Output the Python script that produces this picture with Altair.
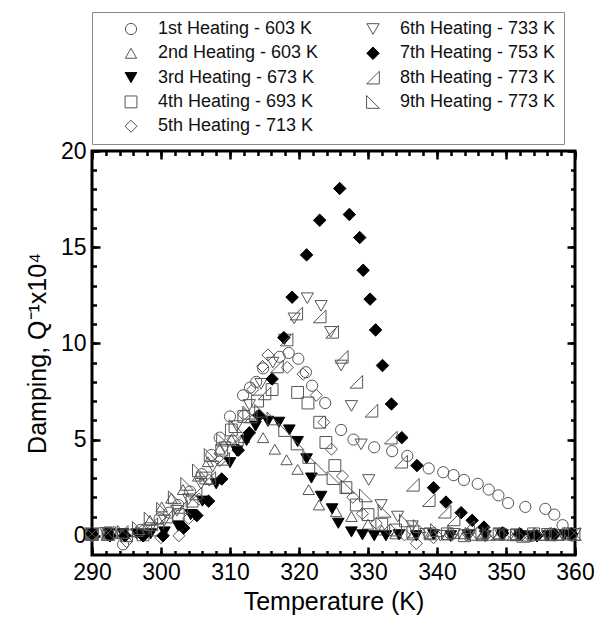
import altair as alt
import pandas as pd

SERIES = [
    "1st Heating - 603 K", "2nd Heating - 603 K", "3rd Heating - 673 K",
    "4th Heating - 693 K", "5th Heating - 713 K", "6th Heating - 733 K",
    "7th Heating - 753 K", "8th Heating - 773 K", "9th Heating - 773 K",
]

T1 = [290, 292.3, 294.5, 297, 299.8, 301.2, 302.5, 304.2, 305.9, 307.3, 308.5, 310, 311.9, 312.9, 313.8, 314.8,
      317.2, 318.5, 319.9, 321, 321.9, 323.8, 326.1, 327.9, 330.9, 333.5, 335.7, 338.8, 340.9, 342.4, 343.9,
      345.9, 347.5, 348.9, 350.3, 352.8, 355.7, 357, 358.2]
D1 = [0.1, 0.1, -0.45, 0.3, 0.9, 1.2, 1.6, 2.3, 3.2, 4.2, 5.1, 6.2, 7.3, 7.7, 8.0, 8.7,
      9.3, 9.5, 9.2, 8.5, 7.8, 6.9, 5.5, 5.0, 4.6, 4.4, 4.15, 3.5, 3.3, 3.15, 2.9,
      2.7, 2.4, 2.1, 1.7, 1.5, 1.4, 1.1, 0.55]

T2 = [290, 292.3, 294.5, 296.5, 298.4, 300.1, 301.5, 303.2, 305.4, 306.8, 308.5, 310.2, 312, 314.8, 316.5,
      318.2, 319.8, 321.4, 322.9, 325.4, 327.6, 330, 332, 334, 336.5, 339, 341.5, 344, 346.5, 349, 351.5,
      354, 356.5, 359]
D2 = [0.1, 0.1, 0.1, 0.2, 0.8, 1.5, 1.95, 2.4, 3.1, 3.85, 4.5, 5.0, 5.1, 5.1, 4.5,
      3.95, 3.45, 2.4, 1.6, 1.25, 1.0, 0.6, 0.3, 0.1, 0.05, 0.1, 0.05, 0.1, 0.0, 0.1, 0.05,
      0.1, 0.05, 0.1]

T3 = [290, 292.5, 294.5, 296.5, 298.5, 300.5, 302.5, 304.3, 306, 308, 310, 311, 312.4, 313.7, 315.5, 317.1,
      318.6, 319.8, 321.1, 321.8, 323.2, 324.8, 325.7, 327.6, 329.2, 330.9, 332.6, 334.5, 337, 339.5,
      342, 344.5, 347, 349.5, 352, 353.6, 356, 358.5]
D3 = [0.1, 0.1, 0.1, 0.1, 0.1, 0.2, 0.5, 1.1, 1.8, 2.7, 3.8, 4.4, 4.95, 5.7, 5.95, 5.9,
      5.5, 4.9, 4.0, 3.0, 2.05, 1.4, 0.65, 0.2, 0.05, 0.0, 0.0, 0.05, 0.0, 0.05,
      0.0, 0.05, 0.0, 0.05, 0.0, -0.05, 0.0, 0.05]

T4 = [290, 292.6, 295, 297.4, 299.5, 302.5, 304.5, 306.5, 308.8, 310.2, 312, 314, 316.1, 319.8, 321.3,
      323.0, 323.9, 325.2, 326.8, 328.3, 330, 332, 334, 336.5, 339, 341.5, 344, 346.5, 349, 351.5, 354,
      356.5, 359]
D4 = [0.1, 0.15, 0.0, 0.05, 0.3, 1.1, 1.8, 3.0, 4.45, 5.5, 6.2, 7.0, 7.6, 7.45, 6.9,
      5.9, 4.85, 3.65, 2.5, 1.6, 1.1, 0.6, 0.3, 0.2, 0.1, 0.1, 0.0, 0.1, 0.1, 0.05, 0.1,
      0.05, 0.1]

T5 = [290, 292.5, 295, 297.5, 300, 302.6, 304, 305.5, 307, 308.5, 310.4, 312, 313.3, 314.7, 315.5, 318.3,
      320.6, 322.5, 323.6, 324.7, 326.3, 327.8, 329.2, 331.2, 333.2, 335.3, 337, 339.5, 342, 344.5, 347,
      349.5, 352, 354.5, 357, 359.5]
D5 = [0.0, 0.1, -0.3, 0.0, -0.1, 0.0, 0.9, 1.9, 2.9, 3.9, 5.0, 6.3, 7.6, 8.8, 9.4, 8.75,
      8.4, 7.3, 5.9, 4.5, 3.1, 2.0, 1.15, 0.65, 0.3, 0.05, -0.4, -0.1, 0.0, 0.1, 0.0,
      0.1, 0.05, 0.0, 0.1, 0.0]

T6 = [290, 292, 294.3, 296.5, 298.5, 300.5, 302.3, 304, 305.8, 307.5, 309.3, 311, 312.8, 314.5, 316.2, 317.9,
      319.3, 321.2, 323.2, 324.6, 326.1, 327.6, 329.0, 330.1, 331.9, 334.3, 336.4, 338.4, 340.5, 342.5,
      344.7, 347, 349.2, 351.5, 353.7, 356, 358.2, 360]
D6 = [0.1, 0.15, 0.0, 0.1, 0.4, 0.8, 1.3, 1.9, 2.7, 3.6, 4.6, 5.7, 6.8, 7.9, 9.0, 10.2,
      11.3, 12.35, 11.95, 10.6, 8.85, 6.75, 4.75, 2.9, 1.6, 1.0, 0.5, 0.1, 0.0, 0.1,
      0.05, 0.0, 0.1, 0.05, 0.0, 0.1, 0.05, 0.1]

T7 = [290, 292.6, 294.8, 297.4, 300.3, 303.3, 305.2, 306.9, 308.8, 311.2, 312.8, 314.2, 316.1, 317.8, 319.0,
      321.1, 323.0, 325.9, 327.3, 328.8, 329.3, 330.3, 331.1, 332.1, 333.4, 334.9, 337.1, 339.5, 341.3,
      343.5, 345.1, 346.8, 349.5, 352, 354.5, 357, 359.5]
D7 = [0.1, 0.0, 0.0, 0.0, 0.0, 0.4, 1.05, 1.8, 2.95, 4.45, 5.35, 6.25, 8.15, 10.3, 12.4,
      14.6, 16.4, 18.05, 16.7, 15.5, 13.8, 12.3, 10.7, 8.85, 6.85, 5.1, 3.65, 2.5, 1.75,
      1.2, 0.8, 0.45, 0.15, 0.1, 0.0, 0.05, 0.1]

T8 = [290, 292.2, 294.3, 296.5, 298.6, 300.8, 302.9, 305, 307, 309, 311, 313, 315, 316.8, 318.2, 319.6,
      323.0, 324.8, 326.2, 328.3, 330.5, 333.3, 334.8, 336.5, 338.8, 341.1, 342.4, 344.5, 346.6, 348.8,
      351, 353.2, 355.4, 357.6, 359.8]
D8 = [0.1, 0.1, 0.2, 0.3, 0.6, 1.0, 1.5, 2.2, 3.0, 4.0, 5.0, 6.2, 7.4, 8.8, 10.2, 11.55,
      11.4, 10.6, 9.3, 8.0, 6.5, 5.1, 3.85, 2.65, 1.85, 1.25, 0.85, 0.45, 0.2, 0.1,
      0.1, 0.05, 0.1, 0.1, 0.1]

T9 = [290, 292.4, 294.6, 296.8, 298.5, 300.3, 302, 303.8, 305.5, 307.2, 309, 310.8, 312.8, 314.5, 316.3,
      318, 319.8, 321.5, 323.2, 325, 327.1, 329.7, 332.4, 335.5, 337.5, 340, 342.5, 345, 347.5, 350,
      352.5, 355, 357.5, 360]
D9 = [0.1, 0.1, 0.2, 0.4, 0.9, 1.4, 2.0, 2.7, 3.4, 4.2, 5.0, 5.7, 6.4, 6.5, 6.1,
      5.5, 4.8, 4.1, 3.5, 3.0, 2.55, 2.1, 1.3, 0.8, 0.5, 0.3, 0.2, 0.1, 0.1, 0.1,
      0.0, 0.1, 0.1, 0.1]

X_MAJOR = [290, 300, 310, 320, 330, 340, 350, 360]
X_MINOR = list(range(290, 361, 2))
Y_MAJOR = [0, 5, 10, 15, 20]
Y_MINOR = list(range(0, 21, 1))

rows = []
for name, ts, ds in zip(SERIES, [T1, T2, T3, T4, T5, T6, T7, T8, T9],
                        [D1, D2, D3, D4, D5, D6, D7, D8, D9]):
    for t, d in zip(ts, ds):
        rows.append({"series": name, "T": t, "D": d})
df = pd.DataFrame(rows)

ORDER = SERIES  # legend fills column by column
SHAPE = {
    SERIES[0]: "circle", SERIES[1]: "triangle-up", SERIES[2]: "triangle-down",
    SERIES[3]: "square", SERIES[4]: "diamond", SERIES[5]: "triangle-down",
    SERIES[6]: "diamond", SERIES[7]: "M1,-1L1,1L-1,1Z", SERIES[8]: "M-1,-1L-1,1L1,1Z",
}
FILLED = {SERIES[2], SERIES[6]}
SIZE = {
    SERIES[0]: 125, SERIES[1]: 165, SERIES[2]: 165, SERIES[3]: 105, SERIES[4]: 165,
    SERIES[5]: 165, SERIES[6]: 170, SERIES[7]: 140, SERIES[8]: 140,
}
OPEN_GREY = "#555555"

shape_range = [SHAPE[s] for s in ORDER]
fill_range = ["#000000" if s in FILLED else "transparent" for s in ORDER]
stroke_range = ["#000000" if s in FILLED else OPEN_GREY for s in ORDER]
size_range = [SIZE[s] for s in ORDER]

FONT = "Liberation Sans"
xs = alt.Scale(domain=[290, 360], nice=False, zero=False)
ys = alt.Scale(domain=[-1, 20], nice=False, zero=False)

legend = alt.Legend(
    title=None, orient="none", legendX=0, legendY=-139, direction="vertical", columns=2,
    labelFontSize=18, labelFont=FONT, labelColor="#111111", padding=8, symbolOffset=22,
    rowPadding=6.3, columnPadding=23, labelOffset=18, strokeColor="#888888",
    symbolStrokeWidth=1, labelLimit=400,
)

def tick_axis(orient, values, size, labels=False, title=None, **kw):
    return alt.Axis(orient=orient, values=values, offset=-size, tickSize=size, tickWidth=2.5,
                    tickColor="black", domain=False, grid=False, labels=labels,
                    title=title, **kw)

x_main = tick_axis("bottom", X_MAJOR, 8, labels=True, title="Temperature (K)",
                   labelFontSize=23, labelFont=FONT, labelColor="black", labelPadding=6,
                   labelFlush=False, labelOverlap=False, format="d",
                   titleFontSize=25, titleFont=FONT, titleFontWeight="normal",
                   titleColor="black", titlePadding=5)
y_main = tick_axis("left", Y_MAJOR, 8, labels=True, title="Damping, Q\u207b\u00b9x10\u2074",
                   labelFontSize=23, labelFont=FONT, labelColor="black", labelPadding=6,
                   labelFlush=False, labelOverlap=False, format="d",
                   titleFontSize=25, titleFont=FONT, titleFontWeight="normal",
                   titleColor="black", titlePadding=10)

points = alt.Chart(df).mark_point(filled=True, opacity=1, strokeWidth=1).encode(
    x=alt.X("T:Q", scale=xs, axis=x_main),
    y=alt.Y("D:Q", scale=ys, axis=y_main),
    shape=alt.Shape("series:N", scale=alt.Scale(domain=ORDER, range=shape_range), legend=legend),
    fill=alt.Fill("series:N", scale=alt.Scale(domain=ORDER, range=fill_range), legend=legend),
    stroke=alt.Stroke("series:N", scale=alt.Scale(domain=ORDER, range=stroke_range), legend=legend),
    size=alt.Size("series:N", scale=alt.Scale(domain=ORDER, range=size_range), legend=legend),
)

def axis_layer(xaxis, yaxis):
    return alt.Chart(df).mark_point(opacity=0, size=1).encode(
        x=alt.X("T:Q", scale=xs, axis=xaxis),
        y=alt.Y("D:Q", scale=ys, axis=yaxis),
    )

l_top_major = axis_layer(tick_axis("top", X_MAJOR, 8), tick_axis("right", Y_MAJOR, 8))
l_bot_minor = axis_layer(tick_axis("bottom", X_MINOR, 4.5), tick_axis("left", Y_MINOR, 4.5))
l_top_minor = axis_layer(tick_axis("top", X_MINOR, 4.5), tick_axis("right", Y_MINOR, 4.5))

chart = alt.layer(points, l_top_major, l_bot_minor, l_top_minor).resolve_axis(
    x="independent", y="independent"
).properties(
    width=483, height=404,
    autosize=alt.AutoSizeParams(type="none"),
    padding={"left": 84, "top": 143, "right": 19, "bottom": 61},
    background="white",
).configure_view(stroke="black", strokeWidth=3)

chart.save("out.html", embed_options={"renderer": "svg", "actions": False})
